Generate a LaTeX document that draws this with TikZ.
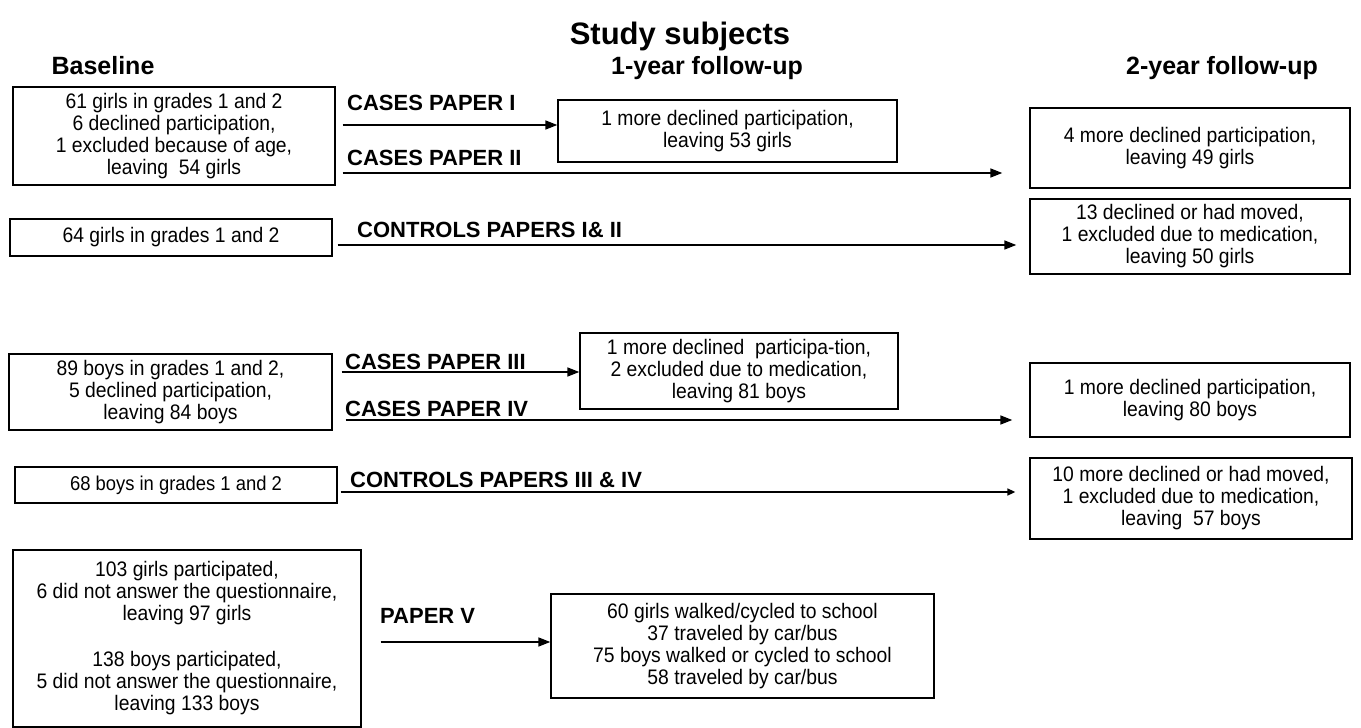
\documentclass[tikz,border=0pt]{standalone}
\usepackage{fontspec}
\setmainfont{Liberation Sans}
\newfontfamily\bodyfont[FakeStretch=0.92]{Liberation Sans}
\usetikzlibrary{arrows.meta,calc}
\begin{document}
\begin{tikzpicture}[x=1pt,y=-1pt,
  box/.style={draw,line width=1.3pt,inner sep=0pt,align=center,font=\bodyfont\fontsize{21}{22}\selectfont},
  lbl/.style={anchor=base west,inner sep=0pt,font=\bfseries\fontsize{22}{24}\selectfont},
  hdr/.style={anchor=base,inner sep=0pt,font=\bfseries\fontsize{25}{27}\selectfont},
  ttl/.style={anchor=base,inner sep=0pt,font=\bfseries\fontsize{31}{33}\selectfont},
  arr/.style={line width=1.6pt,-{Triangle[length=12pt,width=9pt]}},
  arrsmall/.style={line width=1.6pt,-{Triangle[length=8pt,width=7pt]}}]
\useasboundingbox (0,0) rectangle (1361,728);
\fill[white] (0,0) rectangle (1361,728);

% headers
\node[ttl] (title) at (680,44) {Study subjects};
\node[hdr] (hb) at (103,74) {Baseline};
\node[hdr] (h1) at (707,74) {1-year follow-up};
\node[hdr] (h2) at (1222,74) {2-year follow-up};

% girls
\node[box,minimum width=322pt,minimum height=98pt] (a1) at (174,136)
  {61 girls in grades 1 and 2\\6 declined participation,\\1 excluded because of age,\\leaving\ \ 54 girls};
\node[box,minimum width=339pt,minimum height=62pt] (b1) at (727.5,131)
  {1 more declined participation,\\leaving 53 girls};
\node[box,minimum width=320pt,minimum height=80pt] (c1) at (1190,148)
  {4 more declined participation,\\leaving 49 girls};
\node[box,minimum width=322pt,minimum height=37pt] (a2) at (171,237.5)
  {64 girls in grades 1 and 2};
\node[box,minimum width=320pt,minimum height=75pt] (c2) at (1190,236.5)
  {13 declined or had moved,\\1 excluded due to medication,\\leaving 50 girls};

% boys
\node[box,minimum width=323pt,minimum height=76pt] (d1) at (170.5,392)
  {89 boys in grades 1 and 2,\\5 declined participation,\\leaving 84 boys};
\node[box,minimum width=318pt,minimum height=76pt] (b2) at (739,371)
  {1 more declined\ \ participa-tion,\\2 excluded due to medication,\\leaving 81 boys};
\node[box,minimum width=320pt,minimum height=74pt] (c3) at (1190,400)
  {1 more declined participation,\\leaving 80 boys};
\node[box,minimum width=322pt,minimum height=36pt,font=\bodyfont\fontsize{20}{21}\selectfont] (d2) at (176,485)
  {68 boys in grades 1 and 2};
\node[box,minimum width=322pt,minimum height=81pt] (c4) at (1191,498.5)
  {10 more declined or had moved,\\1 excluded due to medication,\\leaving\ \ 57 boys};

% paper V
\node[box,minimum width=348pt,minimum height=177pt] (pv) at (187,638.5)
  {103 girls participated,\\6 did not answer the questionnaire,\\leaving 97 girls\\[24pt]138 boys participated,\\5 did not answer the questionnaire,\\leaving 133 boys};
\node[box,minimum width=383pt,minimum height=104pt] (e) at (742.5,646)
  {60 girls walked/cycled to school\\37 traveled by car/bus\\75 boys walked or cycled to school\\58 traveled by car/bus};

% labels
\node[lbl] (l1) at (347,110) {CASES PAPER I};
\node[lbl] (l2) at (347,165) {CASES PAPER II};
\node[lbl] (l3) at (357,237) {CONTROLS PAPERS I\& II};
\node[lbl] (l4) at (345,369) {CASES PAPER III};
\node[lbl] (l5) at (345,416) {CASES PAPER IV};
\node[lbl] (l6) at (350,487) {CONTROLS PAPERS III \& IV};
\node[lbl] (l7) at (380,623) {PAPER V};

% connectors
\draw[arr] ($(a1.east)+(7,-11)$) -- ($(b1.west)+(0,-6)$);
\draw[arr] ($(a1.east)+(7,37)$) -- ($(c1.west)+(-27,25)$);
\draw[arr] ($(a2.east)+(5,7.5)$) -- ($(c2.west)+(-13,8.5)$);
\draw[arr] ($(d1.east)+(9,-20)$) -- ($(b2.west)+(0,1)$);
\draw[arr] ($(d1.east)+(13,28)$) -- ($(c3.west)+(-17,20)$);
\draw[arrsmall] ($(d2.east)+(3,7)$) -- ($(c4.west)+(-14,-6.5)$);
\draw[arr] ($(pv.east)+(19,3.5)$) -- ($(e.west)+(0,-4)$);
\end{tikzpicture}
\end{document}
